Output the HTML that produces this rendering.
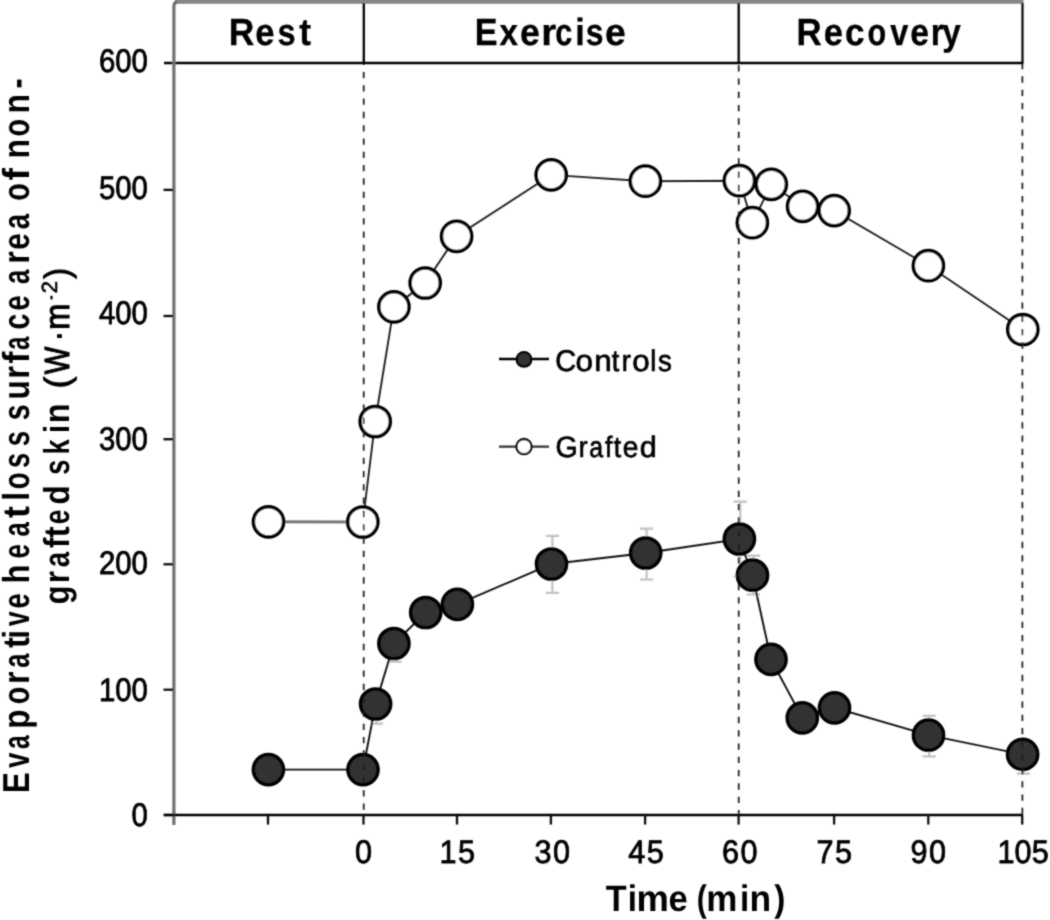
<!DOCTYPE html>
<html><head><meta charset="utf-8"><style>
html,body{margin:0;padding:0;background:#fff;}
svg{display:block;}
#wrap{width:1050px;height:920px;}
text{font-family:"Liberation Sans",sans-serif;fill:#000;}
</style></head><body><div id="wrap">
<svg width="1050" height="920" viewBox="0 0 1050 920" text-rendering="geometricPrecision">
<defs><filter id="sb" x="0" y="0" width="1050" height="920" filterUnits="userSpaceOnUse"><feConvolveMatrix order="3" kernelMatrix="1 2 1 2 10 2 1 2 1" edgeMode="duplicate" preserveAlpha="false"/></filter></defs>
<rect x="0" y="0" width="1050" height="920" fill="#fff"/>
<g filter="url(#sb)">

<rect x="175" y="0" width="848.5" height="3.8" fill="#868686"/>
<line x1="1022.5" y1="3" x2="1022.5" y2="64" stroke="#111" stroke-width="2.3"/>
<line x1="363.8" y1="3" x2="363.8" y2="64" stroke="#000" stroke-width="2.3"/>
<line x1="738.7" y1="3" x2="738.7" y2="64" stroke="#000" stroke-width="2.3"/>
<line x1="164" y1="63" x2="1023" y2="63" stroke="#000" stroke-width="2.5"/>
<path d="M173.9,825 V6 Q173.9,2.2 177.5,2.2" fill="none" stroke="#707070" stroke-width="3.2"/>
<line x1="163.5" y1="815.0" x2="173" y2="815.0" stroke="#111" stroke-width="2.3"/>
<text transform="translate(147.8,826.3) scale(0.9,1)" font-size="32.6" text-anchor="end" stroke="#000" stroke-width="0.8">0</text>
<line x1="163.5" y1="689.7" x2="173" y2="689.7" stroke="#111" stroke-width="2.3"/>
<text transform="translate(147.8,700.6) scale(0.9,1)" font-size="32.6" text-anchor="end" stroke="#000" stroke-width="0.8">100</text>
<line x1="163.5" y1="564.3" x2="173" y2="564.3" stroke="#111" stroke-width="2.3"/>
<text transform="translate(147.8,573.8) scale(0.9,1)" font-size="32.6" text-anchor="end" stroke="#000" stroke-width="0.8">200</text>
<line x1="163.5" y1="439.2" x2="173" y2="439.2" stroke="#111" stroke-width="2.3"/>
<text transform="translate(147.8,449.5) scale(0.9,1)" font-size="32.6" text-anchor="end" stroke="#000" stroke-width="0.8">300</text>
<line x1="163.5" y1="316.0" x2="173" y2="316.0" stroke="#111" stroke-width="2.3"/>
<text transform="translate(147.8,323.5) scale(0.9,1)" font-size="32.6" text-anchor="end" stroke="#000" stroke-width="0.8">400</text>
<line x1="163.5" y1="189.9" x2="173" y2="189.9" stroke="#111" stroke-width="2.3"/>
<text transform="translate(147.8,199.1) scale(0.9,1)" font-size="32.6" text-anchor="end" stroke="#000" stroke-width="0.8">500</text>
<text transform="translate(147.8,72.3) scale(0.9,1)" font-size="32.6" text-anchor="end" stroke="#000" stroke-width="0.8">600</text>
<line x1="164" y1="815" x2="1023" y2="815" stroke="#000" stroke-width="2.5"/>
<line x1="268.0" y1="815" x2="268.0" y2="824.6" stroke="#111" stroke-width="2.3"/>
<line x1="363.5" y1="815" x2="363.5" y2="824.6" stroke="#111" stroke-width="2.3"/>
<text transform="translate(364.1,863.3) scale(0.94,1)" font-size="32.6" text-anchor="middle" letter-spacing="1.5" stroke="#000" stroke-width="0.8">0</text>
<line x1="457.0" y1="815" x2="457.0" y2="824.6" stroke="#111" stroke-width="2.3"/>
<text transform="translate(458.0,863.3) scale(0.94,1)" font-size="32.6" text-anchor="middle" letter-spacing="1.5" stroke="#000" stroke-width="0.8">15</text>
<line x1="550.9" y1="815" x2="550.9" y2="824.6" stroke="#111" stroke-width="2.3"/>
<text transform="translate(552.9,863.3) scale(0.94,1)" font-size="32.6" text-anchor="middle" letter-spacing="1.5" stroke="#000" stroke-width="0.8">30</text>
<line x1="645.1" y1="815" x2="645.1" y2="824.6" stroke="#111" stroke-width="2.3"/>
<text transform="translate(646.8,863.3) scale(0.94,1)" font-size="32.6" text-anchor="middle" letter-spacing="1.5" stroke="#000" stroke-width="0.8">45</text>
<line x1="738.6" y1="815" x2="738.6" y2="824.6" stroke="#111" stroke-width="2.3"/>
<text transform="translate(740.4,863.3) scale(0.94,1)" font-size="32.6" text-anchor="middle" letter-spacing="1.5" stroke="#000" stroke-width="0.8">60</text>
<line x1="834.1" y1="815" x2="834.1" y2="824.6" stroke="#111" stroke-width="2.3"/>
<text transform="translate(834.9,863.3) scale(0.94,1)" font-size="32.6" text-anchor="middle" letter-spacing="1.5" stroke="#000" stroke-width="0.8">75</text>
<line x1="928.3" y1="815" x2="928.3" y2="824.6" stroke="#111" stroke-width="2.3"/>
<text transform="translate(929.0,863.3) scale(0.94,1)" font-size="32.6" text-anchor="middle" letter-spacing="1.5" stroke="#000" stroke-width="0.8">90</text>
<line x1="1022.2" y1="815" x2="1022.2" y2="824.6" stroke="#111" stroke-width="2.3"/>
<text transform="translate(1023.1,863.3) scale(0.94,1)" font-size="32.6" text-anchor="middle" letter-spacing="0.1" stroke="#000" stroke-width="0.8">105</text>
<text transform="translate(28.60,792.88) rotate(-90) scale(0.833,1)" font-size="37.5" font-weight="bold">E</text>
<text transform="translate(28.60,767.68) rotate(-90) scale(0.722,1)" font-size="37.5" font-weight="bold">v</text>
<text transform="translate(28.60,749.05) rotate(-90) scale(0.655,1)" font-size="37.5" font-weight="bold">a</text>
<text transform="translate(28.60,728.79) rotate(-90) scale(0.837,1)" font-size="37.5" font-weight="bold">p</text>
<text transform="translate(28.60,704.15) rotate(-90) scale(0.765,1)" font-size="37.5" font-weight="bold">o</text>
<text transform="translate(28.60,683.95) rotate(-90) scale(0.861,1)" font-size="37.5" font-weight="bold">r</text>
<text transform="translate(28.60,667.78) rotate(-90) scale(0.680,1)" font-size="37.5" font-weight="bold">a</text>
<text transform="translate(28.60,647.93) rotate(-90) scale(0.870,1)" font-size="37.5" font-weight="bold">t</text>
<text transform="translate(28.60,638.76) rotate(-90) scale(0.850,1)" font-size="37.5" font-weight="bold">i</text>
<text transform="translate(28.60,625.97) rotate(-90) scale(0.698,1)" font-size="37.5" font-weight="bold">v</text>
<text transform="translate(28.60,608.59) rotate(-90) scale(0.728,1)" font-size="37.5" font-weight="bold">e</text>
<text transform="translate(28.60,583.56) rotate(-90) scale(0.822,1)" font-size="37.5" font-weight="bold">h</text>
<text transform="translate(28.60,558.54) rotate(-90) scale(0.694,1)" font-size="37.5" font-weight="bold">e</text>
<text transform="translate(28.60,536.49) rotate(-90) scale(0.685,1)" font-size="37.5" font-weight="bold">a</text>
<text transform="translate(28.60,517.97) rotate(-90) scale(0.948,1)" font-size="37.5" font-weight="bold">t</text>
<text transform="translate(28.60,500.66) rotate(-90) scale(0.850,1)" font-size="37.5" font-weight="bold">l</text>
<text transform="translate(28.60,489.31) rotate(-90) scale(0.740,1)" font-size="37.5" font-weight="bold">o</text>
<text transform="translate(28.60,467.91) rotate(-90) scale(0.728,1)" font-size="37.5" font-weight="bold">s</text>
<text transform="translate(28.60,446.22) rotate(-90) scale(0.733,1)" font-size="37.5" font-weight="bold">s</text>
<text transform="translate(28.60,420.35) rotate(-90) scale(0.761,1)" font-size="37.5" font-weight="bold">s</text>
<text transform="translate(28.60,399.60) rotate(-90) scale(0.844,1)" font-size="37.5" font-weight="bold">u</text>
<text transform="translate(28.60,378.67) rotate(-90) scale(0.870,1)" font-size="37.5" font-weight="bold">r</text>
<text transform="translate(28.60,363.48) rotate(-90) scale(0.958,1)" font-size="37.5" font-weight="bold">f</text>
<text transform="translate(28.60,349.95) rotate(-90) scale(0.645,1)" font-size="37.5" font-weight="bold">a</text>
<text transform="translate(28.60,329.43) rotate(-90) scale(0.756,1)" font-size="37.5" font-weight="bold">c</text>
<text transform="translate(28.60,310.39) rotate(-90) scale(0.728,1)" font-size="37.5" font-weight="bold">e</text>
<text transform="translate(28.60,283.88) rotate(-90) scale(0.685,1)" font-size="37.5" font-weight="bold">a</text>
<text transform="translate(28.60,263.65) rotate(-90) scale(0.861,1)" font-size="37.5" font-weight="bold">r</text>
<text transform="translate(28.60,249.78) rotate(-90) scale(0.789,1)" font-size="37.5" font-weight="bold">e</text>
<text transform="translate(28.60,229.24) rotate(-90) scale(0.735,1)" font-size="37.5" font-weight="bold">a</text>
<text transform="translate(28.60,200.85) rotate(-90) scale(0.765,1)" font-size="37.5" font-weight="bold">o</text>
<text transform="translate(28.60,180.40) rotate(-90) scale(1.000,1)" font-size="37.5" font-weight="bold">f</text>
<text transform="translate(28.60,158.62) rotate(-90) scale(0.850,1)" font-size="37.5" font-weight="bold">n</text>
<text transform="translate(28.60,136.45) rotate(-90) scale(0.765,1)" font-size="37.5" font-weight="bold">o</text>
<text transform="translate(28.60,113.43) rotate(-90) scale(0.850,1)" font-size="37.5" font-weight="bold">n</text>
<text transform="translate(28.60,88.62) rotate(-90) scale(0.811,1)" font-size="37.5" font-weight="bold">-</text>
<text transform="translate(68.60,604.27) rotate(-90) scale(0.850,1)" font-size="36" font-weight="bold">g</text>
<text transform="translate(68.60,583.16) rotate(-90) scale(0.871,1)" font-size="36" font-weight="bold">r</text>
<text transform="translate(68.60,567.26) rotate(-90) scale(0.764,1)" font-size="36" font-weight="bold">a</text>
<text transform="translate(68.60,547.93) rotate(-90) scale(0.870,1)" font-size="36" font-weight="bold">f</text>
<text transform="translate(68.60,537.46) rotate(-90) scale(0.927,1)" font-size="36" font-weight="bold">t</text>
<text transform="translate(68.60,524.20) rotate(-90) scale(0.730,1)" font-size="36" font-weight="bold">e</text>
<text transform="translate(68.60,504.51) rotate(-90) scale(0.871,1)" font-size="36" font-weight="bold">d</text>
<text transform="translate(68.60,474.75) rotate(-90) scale(0.759,1)" font-size="36" font-weight="bold">s</text>
<text transform="translate(68.60,454.59) rotate(-90) scale(0.754,1)" font-size="36" font-weight="bold">k</text>
<text transform="translate(68.60,433.20) rotate(-90) scale(0.850,1)" font-size="36" font-weight="bold">i</text>
<text transform="translate(68.60,423.33) rotate(-90) scale(0.903,1)" font-size="36" font-weight="bold">n</text>
<text transform="translate(68.80,388.20) rotate(-90) scale(0.978,1)" font-size="35" font-weight="normal" stroke="#000" stroke-width="1.1">(</text>
<text transform="translate(68.80,374.31) rotate(-90) scale(0.834,1)" font-size="35" font-weight="normal" stroke="#000" stroke-width="1.1">W</text>
<text transform="translate(68.80,341.09) rotate(-90) scale(0.850,1)" font-size="35" font-weight="normal" stroke="#000" stroke-width="1.1">·</text>
<text transform="translate(68.80,329.81) rotate(-90) scale(0.894,1)" font-size="35" font-weight="normal" stroke="#000" stroke-width="1.1">m</text>
<rect x="50.4" y="295.8" width="2.2" height="3.6" fill="#000"/>
<text transform="translate(57.00,293.32) rotate(-90) scale(1.000,1)" font-size="22" font-weight="normal" stroke="#000" stroke-width="0.6">2</text>
<text transform="translate(68.80,278.52) rotate(-90) scale(0.886,1)" font-size="35" font-weight="normal" stroke="#000" stroke-width="1.1">)</text>
<text transform="translate(228.66,45.00) scale(0.938,1)" font-size="37.8" font-weight="bold" stroke="#000" stroke-width="0.3">R</text>
<text transform="translate(255.33,45.00) scale(0.915,1)" font-size="37.8" font-weight="bold" stroke="#000" stroke-width="0.3">e</text>
<text transform="translate(277.62,45.00) scale(0.860,1)" font-size="37.8" font-weight="bold" stroke="#000" stroke-width="0.3">s</text>
<text transform="translate(299.13,45.00) scale(0.936,1)" font-size="37.8" font-weight="bold" stroke="#000" stroke-width="0.3">t</text>
<text transform="translate(474.64,45.00) scale(0.904,1)" font-size="37.8" font-weight="bold" stroke="#000" stroke-width="0.3">E</text>
<text transform="translate(499.38,45.00) scale(0.878,1)" font-size="37.8" font-weight="bold" stroke="#000" stroke-width="0.3">x</text>
<text transform="translate(519.99,45.00) scale(0.942,1)" font-size="37.8" font-weight="bold" stroke="#000" stroke-width="0.3">e</text>
<text transform="translate(541.15,45.00) scale(1.021,1)" font-size="37.8" font-weight="bold" stroke="#000" stroke-width="0.3">r</text>
<text transform="translate(555.18,45.00) scale(0.811,1)" font-size="37.8" font-weight="bold" stroke="#000" stroke-width="0.3">c</text>
<text transform="translate(575.19,45.00) scale(0.900,1)" font-size="37.8" font-weight="bold" stroke="#000" stroke-width="0.3">i</text>
<text transform="translate(585.85,45.00) scale(0.844,1)" font-size="37.8" font-weight="bold" stroke="#000" stroke-width="0.3">s</text>
<text transform="translate(605.12,45.00) scale(0.986,1)" font-size="37.8" font-weight="bold" stroke="#000" stroke-width="0.3">e</text>
<text transform="translate(796.59,45.00) scale(0.925,1)" font-size="37.8" font-weight="bold" stroke="#000" stroke-width="0.3">R</text>
<text transform="translate(823.63,45.00) scale(0.915,1)" font-size="37.8" font-weight="bold" stroke="#000" stroke-width="0.3">e</text>
<text transform="translate(845.01,45.00) scale(0.930,1)" font-size="37.8" font-weight="bold" stroke="#000" stroke-width="0.3">c</text>
<text transform="translate(867.49,45.00) scale(0.810,1)" font-size="37.8" font-weight="bold" stroke="#000" stroke-width="0.3">o</text>
<text transform="translate(890.19,45.00) scale(0.859,1)" font-size="37.8" font-weight="bold" stroke="#000" stroke-width="0.3">v</text>
<text transform="translate(910.26,45.00) scale(0.893,1)" font-size="37.8" font-weight="bold" stroke="#000" stroke-width="0.3">e</text>
<text transform="translate(930.69,45.00) scale(0.885,1)" font-size="37.8" font-weight="bold" stroke="#000" stroke-width="0.3">r</text>
<text transform="translate(942.18,45.00) scale(0.883,1)" font-size="37.8" font-weight="bold" stroke="#000" stroke-width="0.3">y</text>
<text transform="translate(555.26,371.30) scale(0.963,1)" font-size="30.0" font-weight="normal" stroke="#000" stroke-width="0.7">C</text>
<text transform="translate(575.46,371.30) scale(1.050,1)" font-size="30.0" font-weight="normal" stroke="#000" stroke-width="0.7">o</text>
<text transform="translate(594.21,371.30) scale(1.050,1)" font-size="30.0" font-weight="normal" stroke="#000" stroke-width="0.7">n</text>
<text transform="translate(611.71,371.30) scale(0.900,1)" font-size="30.0" font-weight="normal" stroke="#000" stroke-width="0.7">t</text>
<text transform="translate(621.73,371.30) scale(0.900,1)" font-size="30.0" font-weight="normal" stroke="#000" stroke-width="0.7">r</text>
<text transform="translate(632.29,371.30) scale(1.046,1)" font-size="30.0" font-weight="normal" stroke="#000" stroke-width="0.7">o</text>
<text transform="translate(650.26,371.30) scale(0.900,1)" font-size="30.0" font-weight="normal" stroke="#000" stroke-width="0.7">l</text>
<text transform="translate(657.91,371.30) scale(0.921,1)" font-size="30.0" font-weight="normal" stroke="#000" stroke-width="0.7">s</text>
<text transform="translate(555.44,457.30) scale(0.971,1)" font-size="29.4" font-weight="normal" stroke="#000" stroke-width="0.7">G</text>
<text transform="translate(578.79,457.30) scale(0.900,1)" font-size="29.4" font-weight="normal" stroke="#000" stroke-width="0.7">r</text>
<text transform="translate(589.24,457.30) scale(0.846,1)" font-size="29.4" font-weight="normal" stroke="#000" stroke-width="0.7">a</text>
<text transform="translate(605.11,457.30) scale(0.900,1)" font-size="29.4" font-weight="normal" stroke="#000" stroke-width="0.7">f</text>
<text transform="translate(613.82,457.30) scale(0.900,1)" font-size="29.4" font-weight="normal" stroke="#000" stroke-width="0.7">t</text>
<text transform="translate(622.81,457.30) scale(0.953,1)" font-size="29.4" font-weight="normal" stroke="#000" stroke-width="0.7">e</text>
<text transform="translate(639.80,457.30) scale(1.042,1)" font-size="29.4" font-weight="normal" stroke="#000" stroke-width="0.7">d</text>
<text transform="translate(605.73,910.90) scale(0.930,1)" font-size="36.8" font-weight="bold">T</text>
<text transform="translate(627.69,910.90) scale(0.900,1)" font-size="36.8" font-weight="bold">i</text>
<text transform="translate(636.53,910.90) scale(0.989,1)" font-size="36.8" font-weight="bold">m</text>
<text transform="translate(668.59,910.90) scale(0.941,1)" font-size="36.8" font-weight="bold">e</text>
<text transform="translate(696.67,910.90) scale(0.819,1)" font-size="36.8" font-weight="bold">(</text>
<text transform="translate(706.23,910.90) scale(0.950,1)" font-size="36.8" font-weight="bold">m</text>
<text transform="translate(739.89,910.90) scale(0.900,1)" font-size="36.8" font-weight="bold">i</text>
<text transform="translate(749.49,910.90) scale(0.963,1)" font-size="36.8" font-weight="bold">n</text>
<text transform="translate(774.30,910.90) scale(0.905,1)" font-size="36.8" font-weight="bold">)</text>
<path d="M376.5 704.0V723.6M369.9 723.6H383.1" stroke="#c2c2c2" stroke-width="2.2" fill="none"/>
<path d="M395.2 643.5V661.7M388.6 661.7H401.8" stroke="#c2c2c2" stroke-width="2.2" fill="none"/>
<path d="M552.4 535.8V592.9M545.8 592.9H559.0M545.8 535.8H559.0" stroke="#c2c2c2" stroke-width="2.2" fill="none"/>
<path d="M646.6 528.6V579.5M640.0 579.5H653.2M640.0 528.6H653.2" stroke="#c2c2c2" stroke-width="2.2" fill="none"/>
<path d="M740.3 501.6V576.4M733.7 576.4H746.9M733.7 501.6H746.9" stroke="#c2c2c2" stroke-width="2.2" fill="none"/>
<path d="M753.4 555.6V594.5M746.8 594.5H760.0M746.8 555.6H760.0" stroke="#c2c2c2" stroke-width="2.2" fill="none"/>
<path d="M929.2 715.8V756.4M922.6 756.4H935.8M922.6 715.8H935.8" stroke="#c2c2c2" stroke-width="2.2" fill="none"/>
<path d="M1023.5 754.4V773.6M1016.9 773.6H1030.1" stroke="#c2c2c2" stroke-width="2.2" fill="none"/>
<polyline points="268.4,769.6 363.0,769.6 375.6,704.0 393.9,643.5 425.7,612.5 457.4,604.3 551.5,564.0 645.7,553.0 739.4,539.0 752.5,575.2 771.0,659.4 802.3,717.9 834.5,707.8 928.5,735.2 1022.6,754.4" fill="none" stroke="#111" stroke-width="1.9"/>
<line x1="268.5" y1="521.8" x2="362.8" y2="522.0" stroke="#777" stroke-width="3"/>
<polyline points="362.8,522.0 375.2,421.5 393.9,306.9 425.2,283.0 456.6,236.3 551.2,174.9 645.4,181.2 739.4,180.7 752.4,222.7 771.3,184.3 802.6,206.4 834.2,210.6 928.4,265.7 1022.8,329.5" fill="none" stroke="#222" stroke-width="1.9"/>
<circle cx="268.4" cy="769.6" r="15.1" fill="#333" stroke="#000" stroke-width="3.5"/>
<circle cx="363.0" cy="769.6" r="15.1" fill="#333" stroke="#000" stroke-width="3.5"/>
<circle cx="375.6" cy="704.0" r="15.1" fill="#333" stroke="#000" stroke-width="3.5"/>
<circle cx="393.9" cy="643.5" r="15.1" fill="#333" stroke="#000" stroke-width="3.5"/>
<circle cx="425.7" cy="612.5" r="15.1" fill="#333" stroke="#000" stroke-width="3.5"/>
<circle cx="457.4" cy="604.3" r="15.1" fill="#333" stroke="#000" stroke-width="3.5"/>
<circle cx="551.5" cy="564.0" r="15.1" fill="#333" stroke="#000" stroke-width="3.5"/>
<circle cx="645.7" cy="553.0" r="15.1" fill="#333" stroke="#000" stroke-width="3.5"/>
<circle cx="739.4" cy="539.0" r="15.1" fill="#333" stroke="#000" stroke-width="3.5"/>
<circle cx="752.5" cy="575.2" r="15.1" fill="#333" stroke="#000" stroke-width="3.5"/>
<circle cx="771.0" cy="659.4" r="15.1" fill="#333" stroke="#000" stroke-width="3.5"/>
<circle cx="802.3" cy="717.9" r="15.1" fill="#333" stroke="#000" stroke-width="3.5"/>
<circle cx="834.5" cy="707.8" r="15.1" fill="#333" stroke="#000" stroke-width="3.5"/>
<circle cx="928.5" cy="735.2" r="15.1" fill="#333" stroke="#000" stroke-width="3.5"/>
<circle cx="1022.6" cy="754.4" r="15.1" fill="#333" stroke="#000" stroke-width="3.5"/>
<circle cx="268.5" cy="521.8" r="15.1" fill="#fff" stroke="#000" stroke-width="3.5"/>
<circle cx="362.8" cy="522.0" r="15.1" fill="#fff" stroke="#000" stroke-width="3.5"/>
<circle cx="375.2" cy="421.5" r="15.1" fill="#fff" stroke="#000" stroke-width="3.5"/>
<circle cx="393.9" cy="306.9" r="15.1" fill="#fff" stroke="#000" stroke-width="3.5"/>
<circle cx="425.2" cy="283.0" r="15.1" fill="#fff" stroke="#000" stroke-width="3.5"/>
<circle cx="456.6" cy="236.3" r="15.1" fill="#fff" stroke="#000" stroke-width="3.5"/>
<circle cx="551.2" cy="174.9" r="15.1" fill="#fff" stroke="#000" stroke-width="3.5"/>
<circle cx="645.4" cy="181.2" r="15.1" fill="#fff" stroke="#000" stroke-width="3.5"/>
<circle cx="739.4" cy="180.7" r="15.1" fill="#fff" stroke="#000" stroke-width="3.5"/>
<circle cx="752.4" cy="222.7" r="15.1" fill="#fff" stroke="#000" stroke-width="3.5"/>
<circle cx="771.3" cy="184.3" r="15.1" fill="#fff" stroke="#000" stroke-width="3.5"/>
<circle cx="802.6" cy="206.4" r="15.1" fill="#fff" stroke="#000" stroke-width="3.5"/>
<circle cx="834.2" cy="210.6" r="15.1" fill="#fff" stroke="#000" stroke-width="3.5"/>
<circle cx="928.4" cy="265.7" r="15.1" fill="#fff" stroke="#000" stroke-width="3.5"/>
<circle cx="1022.8" cy="329.5" r="15.1" fill="#fff" stroke="#000" stroke-width="3.5"/>
<line x1="363.7" y1="64" x2="363.7" y2="815" stroke="#1a1a1a" stroke-width="1.7" stroke-dasharray="6.3 7" stroke-dashoffset="5.35"/>
<line x1="738.7" y1="64" x2="738.7" y2="815" stroke="#1a1a1a" stroke-width="1.7" stroke-dasharray="6.3 7" stroke-dashoffset="12.15"/>
<line x1="1022.4" y1="64" x2="1022.4" y2="815" stroke="#1a1a1a" stroke-width="1.7" stroke-dasharray="6.3 7" stroke-dashoffset="0.95"/>
<line x1="499" y1="359" x2="549" y2="359" stroke="#000" stroke-width="2.5"/>
<circle cx="524.0" cy="359.4" r="7.3" fill="#333" stroke="#000" stroke-width="2.3"/>
<line x1="499" y1="446.6" x2="549" y2="446.6" stroke="#333" stroke-width="2.3"/>
<circle cx="524.0" cy="446.6" r="7.6" fill="#fff" stroke="#111" stroke-width="2.3"/>
</g></svg></div></body></html>
